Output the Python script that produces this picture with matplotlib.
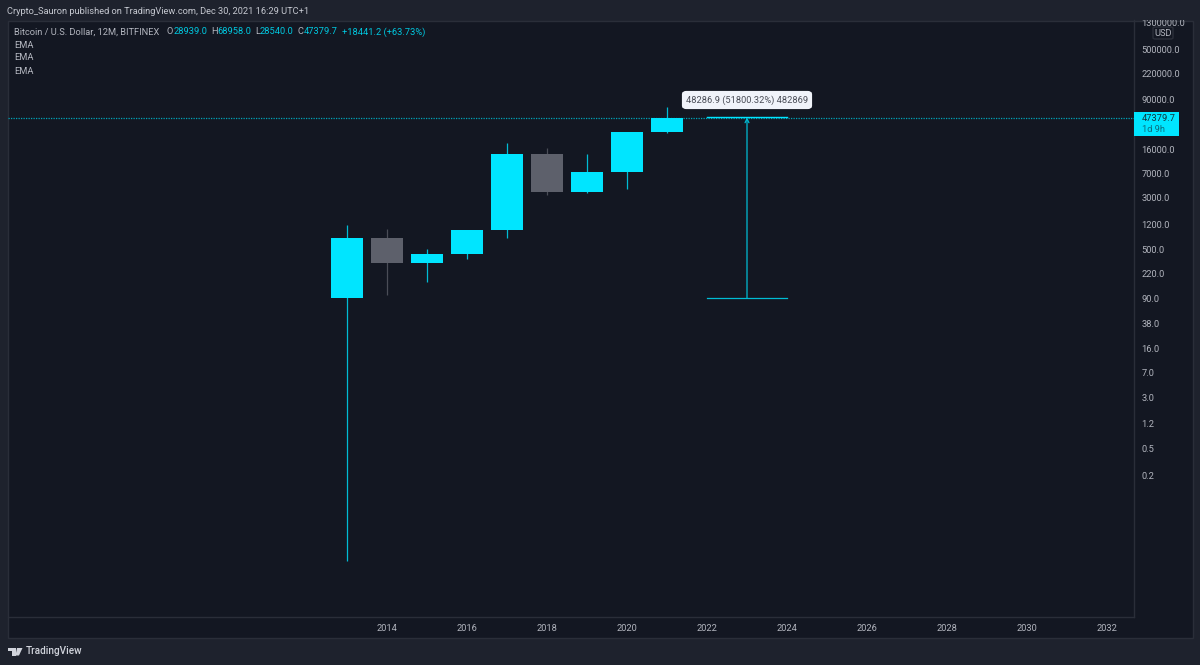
import matplotlib
matplotlib.use("Agg")
import matplotlib.pyplot as plt
from matplotlib.patches import Rectangle, FancyBboxPatch, Polygon

plt.rcParams['font.family'] = ['Roboto', 'DejaVu Sans']

# yearly candles
years = [2013, 2014, 2015, 2016, 2017, 2018, 2019, 2020, 2021]
opens = [92, 752, 313, 427, 968, 13640, 3697, 7236, 28939]
closes = [752, 313, 427, 968, 13640, 3697, 7236, 28939, 47379.7]
highs = [1167, 1005, 503, 981, 19750, 16780, 13640, 28939, 68958]
lows = [0.0103, 102, 164, 356, 736, 3264, 3500, 4060, 28540]

price_ticks = [1300000, 500000, 220000, 90000, 16000, 7000, 3000, 1200, 500, 220, 90, 38, 16, 7, 3, 1.2, 0.5, 0.2]
year_ticks = [2014, 2016, 2018, 2020, 2022, 2024, 2026, 2028, 2030, 2032]

last_price = 47379.7
measure_low = 93.2
measure_high = 48380
measure_years = [2022, 2023, 2024]

W, H = 1200, 665
BG = '#1e222d'
PANEL = '#131722'
BORDER = '#2a2e39'
CYAN = '#00e5ff'
WICK = '#00bcd4'
GRAY = '#5d606b'
TXT = '#b2b5be'
VAL = '#00c8e0'
FS = 6.7

fig = plt.figure(figsize=(W / 100, H / 100), dpi=100, facecolor=BG)


def pxrect(x0, y0, x1, y1, **kw):
    r = Rectangle((x0 / W, 1 - y1 / H), (x1 - x0) / W, (y1 - y0) / H, transform=fig.transFigure, **kw)
    fig.add_artist(r)
    return r


def pxtext(x, y, s, **kw):
    kw.setdefault('fontsize', FS)
    kw.setdefault('color', TXT)
    kw.setdefault('va', 'center')
    return fig.text(x / W, 1 - y / H, s, **kw)


pxrect(7.5, 20.5, 1192.5, 637.5, facecolor=PANEL, edgecolor=BORDER, lw=1, zorder=0)

ax = fig.add_axes([8 / W, 1 - 617 / H, (1134 - 8) / W, (617 - 20) / H], zorder=2)
ax.set_facecolor('none')
ax.set_yscale('log')
ax.set_xlim(2014 - 379 / 40, 2014 + 747 / 40)
ax.set_ylim(90 * 10 ** ((299 - 617) / 66.5), 90 * 10 ** ((299 - 20) / 66.5))

for y, o, c, hi, lo in zip(years, opens, closes, highs, lows):
    up = c >= o
    body = CYAN if up else GRAY
    wick = WICK if up else '#4a4d57'
    ax.plot([y, y], [lo, hi], color=wick, lw=0.9, solid_capstyle='butt', zorder=2)
    ax.bar(y, abs(c - o), bottom=min(o, c), width=0.8, color=body, zorder=3)

ax.axhline(last_price, color='#00a3b8', lw=0.9, ls=(0, (1, 1)), zorder=1)

# measure tool
ax.plot([measure_years[0], measure_years[2]], [measure_high, measure_high], color=CYAN, lw=1, zorder=4)
ax.plot([measure_years[0], measure_years[2]], [measure_low, measure_low], color=WICK, lw=0.9, zorder=4)
ax.annotate('', xy=(measure_years[1], measure_high), xytext=(measure_years[1], measure_low),
            arrowprops=dict(arrowstyle='->', color=WICK, lw=0.9, mutation_scale=7, shrinkA=0, shrinkB=0), zorder=4)

ax.yaxis.tick_right()
ax.set_yticks(price_ticks)
ax.set_yticklabels([f'{p:.1f}' for p in price_ticks])
ax.minorticks_off()
ax.set_xticks(year_ticks)
ax.set_xticklabels([str(y) for y in year_ticks])
ax.tick_params(axis='y', length=0, pad=5.5, labelsize=FS, labelcolor=TXT)
ax.tick_params(axis='x', length=0, pad=5, labelsize=FS, labelcolor=TXT)
for name, sp in ax.spines.items():
    sp.set_visible(name in ('bottom', 'right'))
    sp.set_color(BORDER)
    sp.set_linewidth(1)

# the top price label is cut off by the edge of the chart in the reference
top_cover = pxrect(1135, 0, 1200, 20, facecolor=BG, edgecolor='none', zorder=10)

# header and legend
pxtext(7, 11.5, 'Crypto_Sauron published on TradingView.com, Dec 30, 2021 16:29 UTC+1', color='#c5c8d0')
pxtext(14, 32, 'Bitcoin / U.S. Dollar, 12M, BITFINEX')
for x, s, col in [(166.5, 'O', TXT), (173.5, '28939.0', VAL), (211, 'H', TXT), (217.5, '68958.0', VAL),
                  (255, 'L', TXT), (260, '28540.0', VAL), (298, 'C', TXT), (304, '47379.7', VAL),
                  (342, '+18441.2 (+63.73%)', VAL)]:
    pxtext(x, 32, s, color=col)
for y in [45, 58, 71]:
    pxtext(14, y, 'EMA')

# tooltip of the measure tool
fig.add_artist(FancyBboxPatch((684 / W, 1 - 107 / H), 126 / W, 14 / H, boxstyle='round,pad=0,rounding_size=0.002',
                              transform=fig.transFigure, facecolor='#f0f3fa', edgecolor='#f0f3fa', lw=3, zorder=5))
pxtext(747, 100, '48286.9 (51800.32%) 482869', color='#4a4d57', ha='center', zorder=6)

# last price label
pxrect(1134, 112.5, 1179, 136, facecolor=CYAN, edgecolor='none', zorder=5)
pxtext(1141.5, 118.5, '47379.7', color='#12343c', zorder=6)
pxtext(1141.5, 130, '1d 9h', color='#0b6c7c', zorder=6)

# currency box
fig.add_artist(FancyBboxPatch((1153 / W, 1 - 39 / H), 20 / W, 12 / H, boxstyle='round,pad=0,rounding_size=0.002',
                              transform=fig.transFigure, facecolor=PANEL, edgecolor=BORDER, lw=1, zorder=5))
pxtext(1163, 33, 'USD', ha='center', zorder=6)

# logo
logo = '#d1d4dc'
pxrect(8, 648, 15.5, 651, facecolor=logo, edgecolor='none')
pxrect(11.5, 648, 15.5, 655.5, facecolor=logo, edgecolor='none')
fig.add_artist(Polygon([(17 / W, 1 - 648 / H), (22.5 / W, 1 - 648 / H), (19 / W, 1 - 655.5 / H), (15.5 / W, 1 - 655.5 / H)],
                       transform=fig.transFigure, facecolor=logo, edgecolor='none'))
pxtext(25.5, 651.5, 'TradingView', fontsize=7.2, color=logo, fontweight='medium')

fig.savefig('out.png', dpi=100, facecolor=BG)
